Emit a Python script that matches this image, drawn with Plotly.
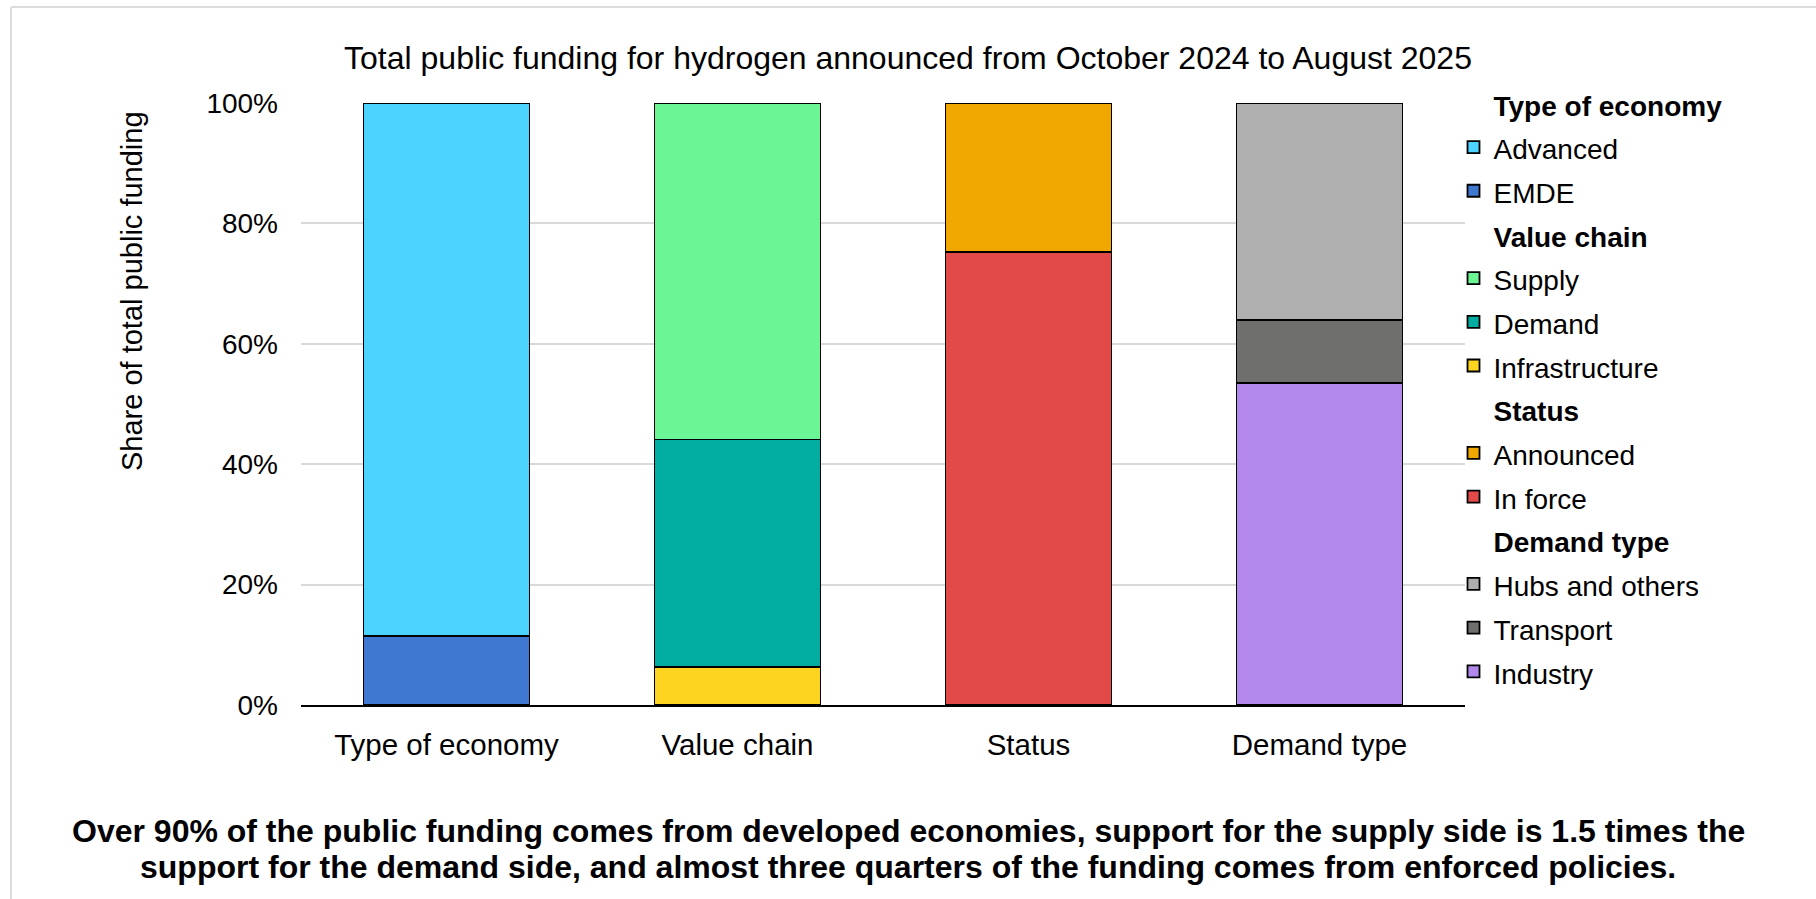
import plotly.graph_objects as go

# Categories on the x axis
categories = ["Type of economy", "Value chain", "Status", "Demand type"]

# Shares of total public funding (%), listed bottom-to-top within each bar
economy_labels = ["EMDE", "Advanced"]
economy_values = [11.4, 88.6]
economy_colors = ["#3e78d0", "#4cd3ff"]

value_chain_labels = ["Infrastructure", "Demand", "Supply"]
value_chain_values = [6.3, 37.8, 55.9]
value_chain_colors = ["#fdd521", "#00ada0", "#6bf595"]

status_labels = ["In force", "Announced"]
status_values = [75.3, 24.7]
status_colors = ["#e24a4a", "#f0a800"]

demand_labels = ["Industry", "Transport", "Hubs and others"]
demand_values = [53.5, 10.5, 36.0]
demand_colors = ["#b388ec", "#6f706e", "#afafaf"]

y_ticks = [0, 20, 40, 60, 80, 100]
y_tick_text = ["0%", "20%", "40%", "60%", "80%", "100%"]

caption_lines = [
    "Over 90% of the public funding comes from developed economies, support for the supply side is 1.5 times the",
    "support for the demand side, and almost three quarters of the funding comes from enforced policies.",
]

W, H = 1816, 899
M_L, M_R, M_T, M_B = 301, 351, 103, 194
PW, PH = W - M_L - M_R, H - M_T - M_B

FONT = "Liberation Sans, Arial, sans-serif"
TXT = 28          # visible legend / tick text size
ROW = 31.3        # legend row font size -> row pitch of ~43.7 px


def px_x(px):
    return (px - M_L) / PW


def px_y(py):
    return (H - M_B - py) / PH


groups = [
    ("Type of economy", categories[0], economy_labels, economy_values, economy_colors),
    ("Value chain", categories[1], value_chain_labels, value_chain_values, value_chain_colors),
    ("Status", categories[2], status_labels, status_values, status_colors),
    ("Demand type", categories[3], demand_labels, demand_values, demand_colors),
]

fig = go.Figure()
for g_i, (gname, cat, labels, values, colors) in enumerate(groups):
    n = len(labels)
    for i, (lab, val, col) in enumerate(zip(labels, values, colors)):
        # legend lists the top segment first
        fig.add_trace(go.Bar(
            x=[cat], y=[val], name=f'<span style="font-size:{TXT}px">{lab}</span>',
            marker=dict(color=col, line=dict(color="#000000", width=1.8)),
            legendgroup=gname,
            legendgrouptitle=dict(
                text=f'<span style="font-size:31.5px">\u00a0\u00a0\u00a0\u00a0</span>'
                     f'<span style="font-size:{TXT}px"><b>{gname}</b></span>',
                font=dict(size=ROW, color="#000000", family=FONT)),
            legendrank=100 * (g_i + 1) + (n - i),
            hoverinfo="skip",
        ))

annotations = [
    dict(
        text="Share of total public funding", textangle=-90,
        x=px_x(132), y=px_y(291), xref="paper", yref="paper",
        xanchor="center", yanchor="middle", showarrow=False,
        font=dict(size=29, family=FONT, color="#000000"),
    ),
]
for line, py in zip(caption_lines, [831, 867]):
    annotations.append(dict(
        text=f"<b>{line}</b>",
        x=px_x(908), y=px_y(py), xref="paper", yref="paper",
        xanchor="center", yanchor="middle", showarrow=False, align="center",
        font=dict(size=32, family=FONT, color="#000000"),
    ))

fig.update_layout(
    width=W, height=H,
    margin=dict(l=M_L, r=M_R, t=M_T, b=M_B, autoexpand=False),
    paper_bgcolor="#ffffff", plot_bgcolor="#ffffff",
    barmode="stack", bargap=0.43,
    font=dict(family=FONT, size=TXT, color="#000000"),
    title=dict(
        text="Total public funding for hydrogen announced from October 2024 to August 2025",
        x=0.5, xref="container", xanchor="center",
        y=1 - 58 / H, yref="container", yanchor="middle",
        font=dict(size=32, family=FONT, color="#000000"),
    ),
    showlegend=True,
    legend=dict(
        x=px_x(1453.5), xanchor="left", y=px_y(76.5), yanchor="top",
        traceorder="grouped", tracegroupgap=0, maxheight=760,
        font=dict(size=ROW, family=FONT, color="#000000"),
        bgcolor="rgba(0,0,0,0)", itemclick=False, itemdoubleclick=False,
    ),
    xaxis=dict(
        categoryorder="array", categoryarray=categories,
        showgrid=False, showline=True, linecolor="#000000", linewidth=2,
        ticks="", ticklabelstandoff=13,
        tickfont=dict(size=29.5, family=FONT, color="#000000"),
        zeroline=False, fixedrange=True,
    ),
    yaxis=dict(
        range=[0, 100], tickvals=y_ticks, ticktext=y_tick_text,
        showgrid=True, gridcolor="#d9d9d9", gridwidth=2,
        showline=False, zeroline=False, ticks="", ticklabelstandoff=22,
        tickfont=dict(size=TXT, family=FONT, color="#000000"),
        fixedrange=True,
    ),
    annotations=annotations,
    shapes=[
        dict(type="line", xref="paper", yref="paper", x0=px_x(11), x1=px_x(W + 5),
             y0=px_y(7), y1=px_y(7), line=dict(color="#dcdcdc", width=2), layer="below"),
        dict(type="line", xref="paper", yref="paper", x0=px_x(11), x1=px_x(11),
             y0=px_y(7), y1=px_y(H + 5), line=dict(color="#dcdcdc", width=2), layer="below"),
    ],
)

fig.write_html("out.html")
